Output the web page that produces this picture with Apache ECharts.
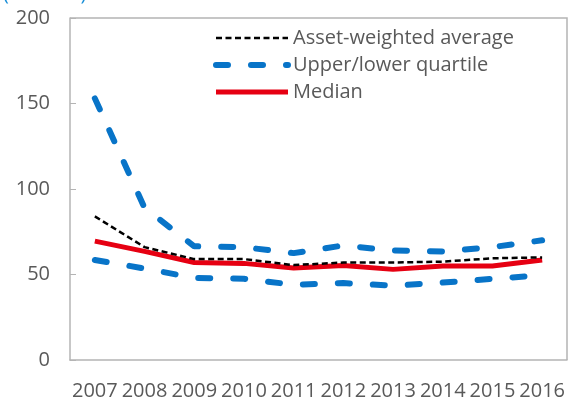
<!DOCTYPE html>
<html>
<head>
<meta charset="utf-8">
<script src="https://cdn.jsdelivr.net/npm/echarts@6/dist/echarts.min.js"></script>
<style>
  html, body { margin: 0; padding: 0; background: #fff; }
  #chart { width: 569px; height: 401px; }
</style>
</head>
<body>
<div id="chart"></div>
<script>
// 数据
const years = ['2007', '2008', '2009', '2010', '2011', '2012', '2013', '2014', '2015', '2016']
const assetWeighted = [84, 66, 59, 59, 55.5, 57, 57, 57.5, 59.5, 60]
const upperQuartile = [153, 89, 66.5, 66, 62.5, 67, 64, 63.5, 66, 70]
const lowerQuartile = [58.5, 53.5, 48, 47.5, 44, 45, 43.5, 45.3, 47.5, 49.5]
const median = [69.5, 63.5, 57, 56.5, 53.8, 55.3, 53, 55, 55, 58.5]
const yTicks = [0, 50, 100, 150, 200]

const grey = '#595959'
const blue = '#0874c8'
const red = '#e60012'
const font = 'Open Sans'
const frame = '#b4b4b4'

let myChart = echarts.init(document.getElementById('chart'))
let option = {
  animation: false,
  textStyle: { fontFamily: font },
  graphic: [{
    type: 'text',
    x: 3,
    y: 4,
    style: { text: '(Percent)', fill: '#1a8fd8', font: '20px "Open Sans"', verticalAlign: 'bottom' }
  }],
  legend: {
    orient: 'vertical',
    left: 208,
    top: 23,
    itemWidth: 72,
    itemHeight: 14,
    itemGap: 7,
    itemStyle: { opacity: 0 },
    textStyle: { color: grey, fontSize: 20, fontFamily: font },
    data: [
      { name: 'Asset-weighted average', lineStyle: { width: 2.5 } },
      { name: 'Upper/lower quartile', lineStyle: { width: 6 } },
      { name: 'Median', lineStyle: { width: 5 } }
    ]
  },
  grid: {
    left: 70,
    right: 2,
    top: 18,
    bottom: 40
  },
  xAxis: {
    type: 'category',
    data: years,
    axisLine: { lineStyle: { color: frame, width: 1.5 } },
    axisTick: { inside: true, length: 6, lineStyle: { color: frame } },
    axisLabel: { color: grey, fontSize: 20, margin: 21, interval: 0 }
  },
  yAxis: {
    type: 'value',
    min: yTicks[0],
    max: yTicks[yTicks.length - 1],
    interval: 50,
    splitLine: { show: false },
    axisLine: { show: true, lineStyle: { color: frame, width: 1.5 } },
    axisTick: { show: true, inside: true, length: 6, lineStyle: { color: frame } },
    axisLabel: { color: grey, fontSize: 20, margin: 20 }
  },
  series: [
    {
      name: 'Upper/lower quartile',
      type: 'line',
      data: upperQuartile,
      symbol: 'none',
      color: blue,
      lineStyle: { color: blue, width: 6, type: [12, 23], cap: 'round' }
    },
    {
      name: 'Upper/lower quartile',
      type: 'line',
      data: lowerQuartile,
      symbol: 'none',
      color: blue,
      lineStyle: { color: blue, width: 6, type: [12, 23], cap: 'round' }
    },
    {
      name: 'Median',
      type: 'line',
      data: median,
      symbol: 'none',
      color: red,
      lineStyle: { color: red, width: 5 }
    },
    {
      name: 'Asset-weighted average',
      type: 'line',
      data: assetWeighted,
      symbol: 'none',
      color: '#000',
      lineStyle: { color: '#000', width: 2.5, type: [6, 3.5] }
    }
  ]
}
myChart.setOption(option)

// 上边框和右边框：用坐标系换算出绘图区的角点
let rect = myChart.getModel().getComponent('grid', 0).coordinateSystem.getRect()
myChart.setOption({
  graphic: [{
    type: 'text',
    x: 3,
    y: 4,
    style: { text: '(Percent)', fill: '#1a8fd8', font: '20px "Open Sans"', verticalAlign: 'bottom' }
  }, {
    type: 'polyline',
    z: 100,
    shape: {
      points: [
        [rect.x, rect.y],
        [rect.x + rect.width, rect.y],
        [rect.x + rect.width, rect.y + rect.height]
      ]
    },
    style: { stroke: frame, lineWidth: 1.5, fill: null }
  }]
})
</script>
</body>
</html>
